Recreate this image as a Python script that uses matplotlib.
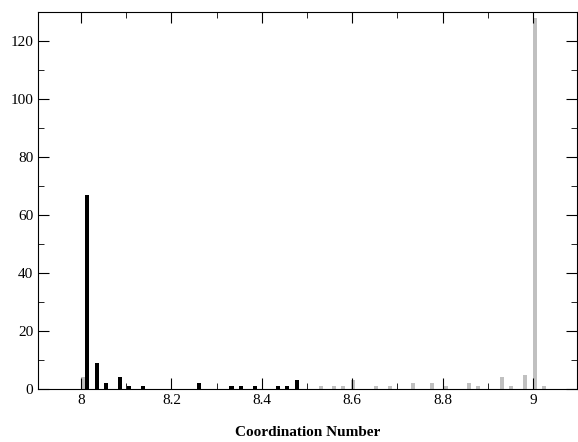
import matplotlib.pyplot as plt
from matplotlib.ticker import MultipleLocator

plt.rcParams['font.family'] = ['Liberation Serif', 'DejaVu Serif']

black_x = [8.013, 8.035, 8.055, 8.086, 8.107, 8.138, 8.261, 8.333, 8.354, 8.385, 8.436, 8.456, 8.477]
black_y = [67, 9, 2, 4, 1, 1, 2, 1, 1, 1, 1, 1, 3]
gray_x = [8.004, 8.530, 8.560, 8.580, 8.601, 8.653, 8.684, 8.735, 8.777, 8.807, 8.858, 8.878, 8.931, 8.951, 8.982, 9.004, 9.025]
gray_y = [4, 1, 1, 1, 3, 1, 1, 2, 2, 1, 2, 1, 4, 1, 5, 128, 1]

fig = plt.figure(figsize=(5.78, 4.42), dpi=100)
ax = fig.add_axes([38/578, 1-389/442, (577-38)/578, (389-12)/442])
ax.bar(gray_x, gray_y, width=0.009, color='#c0c0c0')
ax.bar(black_x, black_y, width=0.009, color='black')
ax.set_xlim(7.905, 9.097)
ax.set_ylim(0, 130)
ax.xaxis.set_minor_locator(MultipleLocator(0.1))
ax.yaxis.set_major_locator(MultipleLocator(20))
ax.yaxis.set_minor_locator(MultipleLocator(10))
ax.set_xticks([8, 8.2, 8.4, 8.6, 8.8, 9])
ax.set_xticklabels(['8', '8.2', '8.4', '8.6', '8.8', '9'])
ax.tick_params(which='both', direction='in', top=True, right=True, labelsize=11)
ax.tick_params(which='major', length=8)
ax.tick_params(which='minor', length=4)
ax.set_xlabel('Coordination Number', fontweight='bold', fontsize=11, labelpad=14)
fig.savefig('out.png', dpi=100)
